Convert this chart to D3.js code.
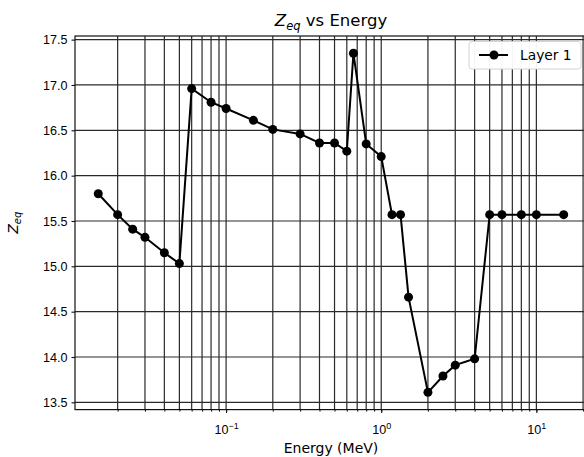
<!DOCTYPE html>
<html lang="en">
<head>
  <meta charset="UTF-8">
  <title>Zeq vs Energy</title>
  <script src="https://d3js.org/d3.v7.min.js"></script>
  <style>
    body { margin: 0; background: #fff; }
    svg { font-family: "DejaVu Sans", sans-serif; display: block; }
    .grid line { stroke: #2a2a2a; stroke-width: 1.2; }
    .axis text { font-size: 12.6px; fill: #000; }
    .axis path, .axis line { stroke: #111; stroke-width: 1.1; }
  </style>
</head>
<body>
<svg width="584" height="457"></svg>
<script>
// energy in MeV, Zeq for layer 1
const energy = [0.015, 0.02, 0.025, 0.03, 0.04, 0.05, 0.06, 0.08, 0.1, 0.15, 0.2, 0.3, 0.4, 0.5, 0.6,
                0.662, 0.8, 1.0, 1.173, 1.332, 1.5, 2, 2.5, 3, 4, 5, 6, 8, 10, 15];
const zeq = [15.80, 15.57, 15.41, 15.32, 15.15, 15.03, 16.96, 16.81, 16.74, 16.61, 16.51, 16.46, 16.36, 16.36, 16.27,
             17.35, 16.35, 16.21, 15.57, 15.57, 14.66, 13.61, 13.79, 13.91, 13.98, 15.57, 15.57, 15.57, 15.57, 15.57];
const yTicks = [13.5, 14.0, 14.5, 15.0, 15.5, 16.0, 16.5, 17.0, 17.5];
const xMajor = [0.1, 1, 10];
const seriesName = "Layer 1";

const svg = d3.select("svg");
const pLeft = 75, pRight = 587, pTop = 36, pBottom = 409.6;

const x = d3.scaleLog().domain([0.01062, 21.2]).range([pLeft, pRight]);
const y = d3.scaleLinear().domain([13.42, 17.54]).range([pBottom, pTop]);

// minor positions for every decade in view
const xMinor = [];
for (let d = 0.01; d < 30; d *= 10) {
  for (let k = 1; k < 10; k++) {
    const v = d * k;
    if (v >= x.domain()[0] && v <= x.domain()[1]) xMinor.push(v);
  }
}

// grid
const grid = svg.append("g").attr("class", "grid");
grid.selectAll(".vx").data(xMinor).enter().append("line")
  .attr("x1", d => x(d)).attr("x2", d => x(d))
  .attr("y1", pTop).attr("y2", pBottom);
grid.selectAll(".hy").data(yTicks).enter().append("line")
  .attr("x1", pLeft).attr("x2", pRight)
  .attr("y1", d => y(d)).attr("y2", d => y(d));

// axes
svg.append("g").attr("class", "axis")
  .attr("transform", `translate(0,${pBottom})`)
  .call(d3.axisBottom(x).tickValues(xMinor).tickSize(2).tickFormat(""))
  .call(g => g.select(".domain").remove());
svg.append("g").attr("class", "axis")
  .attr("transform", `translate(0,${pBottom})`)
  .call(d3.axisBottom(x).tickValues(xMajor).tickSize(3.5).tickPadding(12).tickFormat(""))
  .call(g => g.select(".domain").remove())
  .call(g => g.selectAll(".tick text").each(function(d) {
    const t = d3.select(this);
    t.append("tspan").text("10");
    t.append("tspan").attr("font-size", "9px").attr("dy", "-0.55em")
      .text(String(Math.round(Math.log10(d))).replace("-", "\u2212"));
  }));
svg.append("g").attr("class", "axis")
  .attr("transform", `translate(${pLeft},0)`)
  .call(d3.axisLeft(y).tickValues(yTicks).tickSize(3.5).tickPadding(4).tickFormat(d3.format(".1f")))
  .call(g => g.select(".domain").remove());

// spines
svg.append("rect")
  .attr("x", pLeft).attr("y", pTop)
  .attr("width", pRight - pLeft).attr("height", pBottom - pTop)
  .attr("fill", "none").attr("stroke", "#111").attr("stroke-width", 1.2);

// series
const pts = energy.map((e, i) => [e, zeq[i]]);
svg.append("path")
  .datum(pts)
  .attr("fill", "none").attr("stroke", "#000").attr("stroke-width", 2)
  .attr("d", d3.line().x(d => x(d[0])).y(d => y(d[1])));
svg.selectAll(".dot").data(pts).enter().append("circle")
  .attr("cx", d => x(d[0])).attr("cy", d => y(d[1])).attr("r", 4.5).attr("fill", "#000");

// legend
const lg = svg.append("g").attr("transform", "translate(469,41.5)");
lg.append("rect").attr("width", 112).attr("height", 27.5).attr("rx", 3)
  .attr("fill", "#fff").attr("fill-opacity", 0.95).attr("stroke", "#d4d4d4");
lg.append("line").attr("x1", 10).attr("x2", 39).attr("y1", 13.5).attr("y2", 13.5)
  .attr("stroke", "#000").attr("stroke-width", 2);
lg.append("circle").attr("cx", 25).attr("cy", 13.5).attr("r", 4.5).attr("fill", "#000");
lg.append("text").attr("x", 51).attr("y", 18.5).attr("font-size", "13.8px").attr("fill", "#000").text(seriesName);

// title and labels
const title = svg.append("text").attr("x", (pLeft + pRight) / 2).attr("y", 26)
  .attr("text-anchor", "middle").attr("font-size", "16.5px").attr("fill", "#000");
title.append("tspan").attr("font-style", "italic").text("Z");
title.append("tspan").attr("font-style", "italic").attr("font-size", "11.5px").attr("dy", 3.5).text("eq");
title.append("tspan").attr("dy", -3.5).text(" vs Energy");

svg.append("text").attr("x", (pLeft + pRight) / 2).attr("y", 453)
  .attr("text-anchor", "middle").attr("font-size", "14px").attr("fill", "#000").text("Energy (MeV)");

const yl = svg.append("text").attr("transform", `translate(18,${(pTop + pBottom) / 2}) rotate(-90)`)
  .attr("text-anchor", "middle").attr("font-size", "14px").attr("fill", "#000");
yl.append("tspan").attr("font-style", "italic").text("Z");
yl.append("tspan").attr("font-style", "italic").attr("font-size", "10px").attr("dy", 3).text("eq");
</script>
</body>
</html>
